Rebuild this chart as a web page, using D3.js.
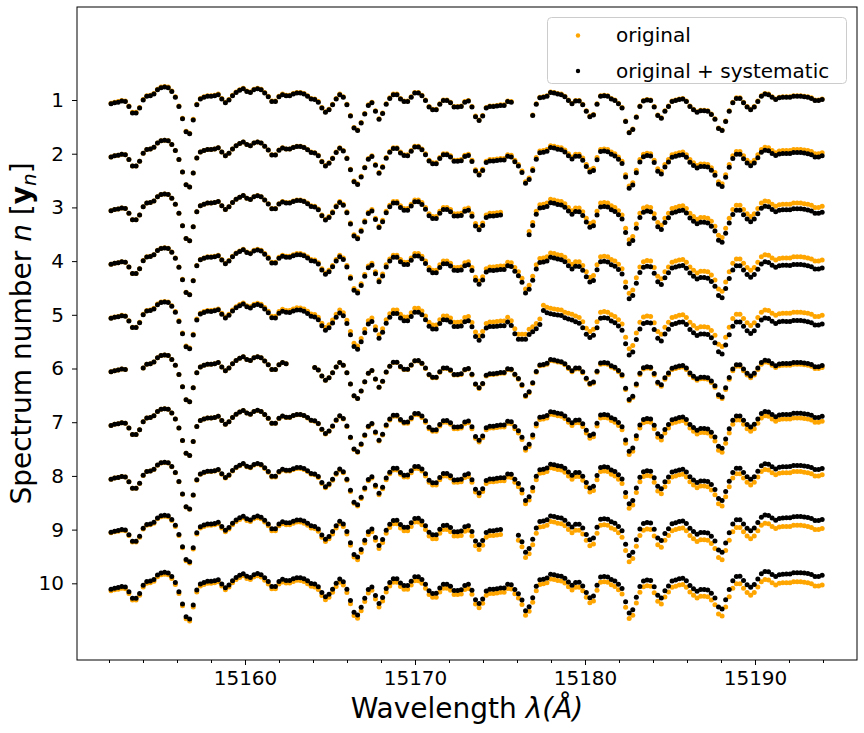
<!DOCTYPE html>
<html><head><meta charset="utf-8">
<script src="https://cdn.jsdelivr.net/npm/d3@7"></script>
<style>body{margin:0;background:#fff}svg{display:block}text{font-family:"DejaVu Sans",sans-serif}</style>
</head><body><svg id="c" width="864" height="733"></svg>
<script>
// ---------------- data ----------------
const spectrumNumbers = [1,2,3,4,5,6,7,8,9,10];
const xTickValues = [15160,15170,15180,15190];
const xMinorTickValues = [15152,15154,15156,15158,15162,15164,15166,15168,15172,15174,15176,15178,15182,15184,15186,15188,15192,15194];
// wavelength grid of the pixels (APOGEE-like sampling)
const wavelengthStart = 15152.12;
const wavelengthStep = 0.2102;
const pixelCount = 200;
const baseFlux = [
0.94,0.96,0.97,0.99,0.98,0.89,0.77,0.77,0.86,1.01,
1.08,1.09,1.12,1.20,1.24,1.25,1.24,1.17,1.06,0.89,
0.66,0.42,0.38,0.64,0.92,1.03,1.06,1.08,1.08,1.09,
1.11,1.03,0.96,1.01,1.09,1.15,1.19,1.22,1.17,1.15,
1.20,1.22,1.20,1.14,1.07,0.98,0.98,1.07,1.11,1.09,
1.09,1.12,1.14,1.14,1.12,1.08,1.03,1.02,0.97,0.86,
0.78,0.83,0.92,1.03,1.11,1.06,0.92,0.71,0.49,0.44,
0.58,0.75,0.91,0.96,0.80,0.65,0.76,0.93,1.04,1.11,
1.11,1.03,0.98,0.98,1.06,1.14,1.14,1.09,1.00,0.88,
0.83,0.83,0.93,1.00,1.00,0.96,0.88,0.88,0.89,0.97,
0.99,0.88,0.70,0.63,0.71,0.86,0.89,0.89,0.90,0.91,
0.91,0.98,0.97,0.88,0.80,0.68,0.48,0.55,0.72,0.93,
1.05,1.06,1.08,1.15,1.14,1.12,1.11,1.07,1.00,0.94,
0.99,0.99,0.92,0.80,0.70,0.73,0.93,1.08,1.09,1.08,
1.03,1.00,0.94,0.86,0.61,0.40,0.46,0.69,0.89,0.99,
1.01,1.00,0.88,0.72,0.67,0.80,0.89,0.98,1.00,1.02,
1.03,0.98,0.89,0.83,0.78,0.81,0.81,0.80,0.74,0.65,
0.48,0.44,0.61,0.80,0.96,1.04,1.04,0.96,0.88,0.83,
0.88,0.98,1.08,1.12,1.11,1.06,1.02,1.05,1.06,1.06,
1.06,1.08,1.08,1.08,1.07,1.06,1.04,1.00,1.00,1.02];
// wavelengths at which the per-spectrum offsets were read
const knotWavelengths = [15152,15160,15166,15172,15180,15188,15194];
// level offset of each original spectrum (flux units, + = lower)
const originalOffset = [
[0,0,0,0,0,0,0],
[0,0,0,0,0,0,0],
[0,0,0,0,0,0,0],
[0,0,0,0,0,0,0],
[0,0,0.02,0.02,0.03,0.03,0.03],
[0,0,0,0,0,0,0],
[0,0,0,0,0,0,0],
[0,0,0,0,0,0,0],
[0,0,0,0,0,0,0],
[0.08,0.08,0.09,0.09,0.06,0.05,0.05]];
// added systematic (flux units, + = lower)
const systematic = [
[0.01,0.01,0.01,0.01,0.01,0.01,0.01],
[0,0,0.01,0.02,0.04,0.05,0.06],
[0,0,0.02,0.04,0.07,0.09,0.11],
[0,0.01,0.03,0.05,0.09,0.12,0.15],
[0.005,0.02,0.06,0.075,0.11,0.14,0.16],
[0,0,0,-0.01,-0.02,-0.03,-0.035],
[0,0,-0.01,-0.03,-0.05,-0.075,-0.09],
[0,-0.01,-0.02,-0.045,-0.075,-0.10,-0.12],
[-0.01,-0.03,-0.045,-0.08,-0.11,-0.14,-0.17],
[-0.03,-0.04,-0.06,-0.075,-0.09,-0.13,-0.18]];
// masked pixels per spectrum [first, last] (0-based)
const maskedPixels = [
[[113,117]],[],[[110,116]],[],[],[[5,8],[50,56]],[],[],[[110,113]],[]];
// pixels where a spectrum differs from the common one: [pixel, flux]
const spectrumOverrides = [
[],[],[],[],
[[112,0.89],[113,0.74],[114,0.64],[115,0.64],[116,0.64],[117,0.73],[118,0.78],[119,0.84],[120,0.92],
 [121,1.18],[122,1.14],[123,1.12],[124,1.11],[125,1.10],[126,1.09],[127,1.05],[128,1.03],[129,1.01],
 [130,0.98],[131,0.95],[132,0.87],[133,0.75],[134,0.69],[135,0.73],[136,0.87]],
[],[],[],[],[]];
const legendLabels = ["original","original + systematic"];
const seriesColors = ["orange","black"];

// ---------------- chart ----------------
const svg = d3.select("#c");
const M = {left:77, right:857, top:7, bottom:660};
const x = d3.scaleLinear().domain([15150.118, 15196.0]).range([M.left, M.right]);
const y = d3.scaleLinear().domain([-0.732, 11.428]).range([M.top, M.bottom]);
const wavelengths = d3.range(pixelCount).map(i => wavelengthStart + i*wavelengthStep);

const pts = [[],[]];
spectrumNumbers.forEach((n, r) => {
  const off = d3.scaleLinear().domain(knotWavelengths).range(originalOffset[r]);
  const sys = d3.scaleLinear().domain(knotWavelengths).range(systematic[r]);
  const ov = new Map(spectrumOverrides[r]);
  const masked = i => maskedPixels[r].some(([a,b]) => i>=a && i<=b);
  baseFlux.forEach((f, i) => {
    if (masked(i)) return;
    const wl = wavelengths[i];
    const orig = ov.has(i) ? ov.get(i) : f - off(wl);
    pts[0].push([wl, n + (1 - orig)]);
    pts[1].push([wl, n + (1 - orig) + sys(wl)]);
  });
});

const plot = svg.append("g");
[0,1].forEach(s => {
  plot.append("g").selectAll("circle").data(pts[s]).join("circle")
    .attr("cx", d => x(d[0])).attr("cy", d => y(d[1])).attr("r", 2.5)
    .attr("fill", seriesColors[s]);
});

// axes
const xAxis = svg.append("g").attr("transform", `translate(0,${M.bottom})`)
  .call(d3.axisBottom(x).tickValues(xTickValues).tickFormat(d3.format("d")).tickSize(5).tickSizeOuter(0).tickPadding(6));
const xMinor = svg.append("g").attr("transform", `translate(0,${M.bottom})`)
  .call(d3.axisBottom(x).tickValues(xMinorTickValues).tickFormat("").tickSize(3).tickSizeOuter(0));
const yAxis = svg.append("g").attr("transform", `translate(${M.left},0)`)
  .call(d3.axisLeft(y).tickValues(spectrumNumbers).tickFormat(d3.format("d")).tickSize(5).tickSizeOuter(0).tickPadding(8));
[xAxis, xMinor, yAxis].forEach(g => {
  g.select(".domain").remove();
  g.selectAll("line").attr("stroke","#000").attr("stroke-width",1);
  g.selectAll("text").attr("font-family","DejaVu Sans").attr("font-size",20).attr("fill","#000");
});
svg.append("rect").attr("x",M.left).attr("y",M.top).attr("width",M.right-M.left).attr("height",M.bottom-M.top)
  .attr("fill","none").attr("stroke","#000").attr("stroke-width",1);

// axis labels
const xl = svg.append("text").attr("x",(M.left+M.right)/2).attr("y",718).attr("text-anchor","middle")
  .attr("font-size",28).attr("fill","#000");
xl.append("tspan").text("Wavelength ");
xl.append("tspan").attr("font-style","italic").text("λ(Å)");

const yl = svg.append("text").attr("transform",`translate(31,${(M.top+M.bottom)/2}) rotate(-90)`)
  .attr("text-anchor","middle").attr("font-size",28).attr("fill","#000");
yl.append("tspan").text("Spectrum number ");
yl.append("tspan").attr("font-style","italic").text("n");
yl.append("tspan").text(" [");
yl.append("tspan").attr("font-weight","bold").text("y");
yl.append("tspan").attr("font-style","italic").attr("font-size",20).attr("dy",5).text("n");
yl.append("tspan").attr("dy",-5).text("]");

// legend
const lg = svg.append("g");
lg.append("rect").attr("x",547.5).attr("y",17.5).attr("width",299).attr("height",66).attr("rx",4)
  .attr("fill","#fff").attr("fill-opacity",0.8).attr("stroke","#ccc");
legendLabels.forEach((t,i) => {
  lg.append("circle").attr("cx",578).attr("cy",35.5+i*35.5).attr("r",2.2).attr("fill",seriesColors[i]);
  lg.append("text").attr("x",616).attr("y",42+i*35.5).attr("font-size",20).attr("fill","#000").text(t);
});
</script></body></html>
